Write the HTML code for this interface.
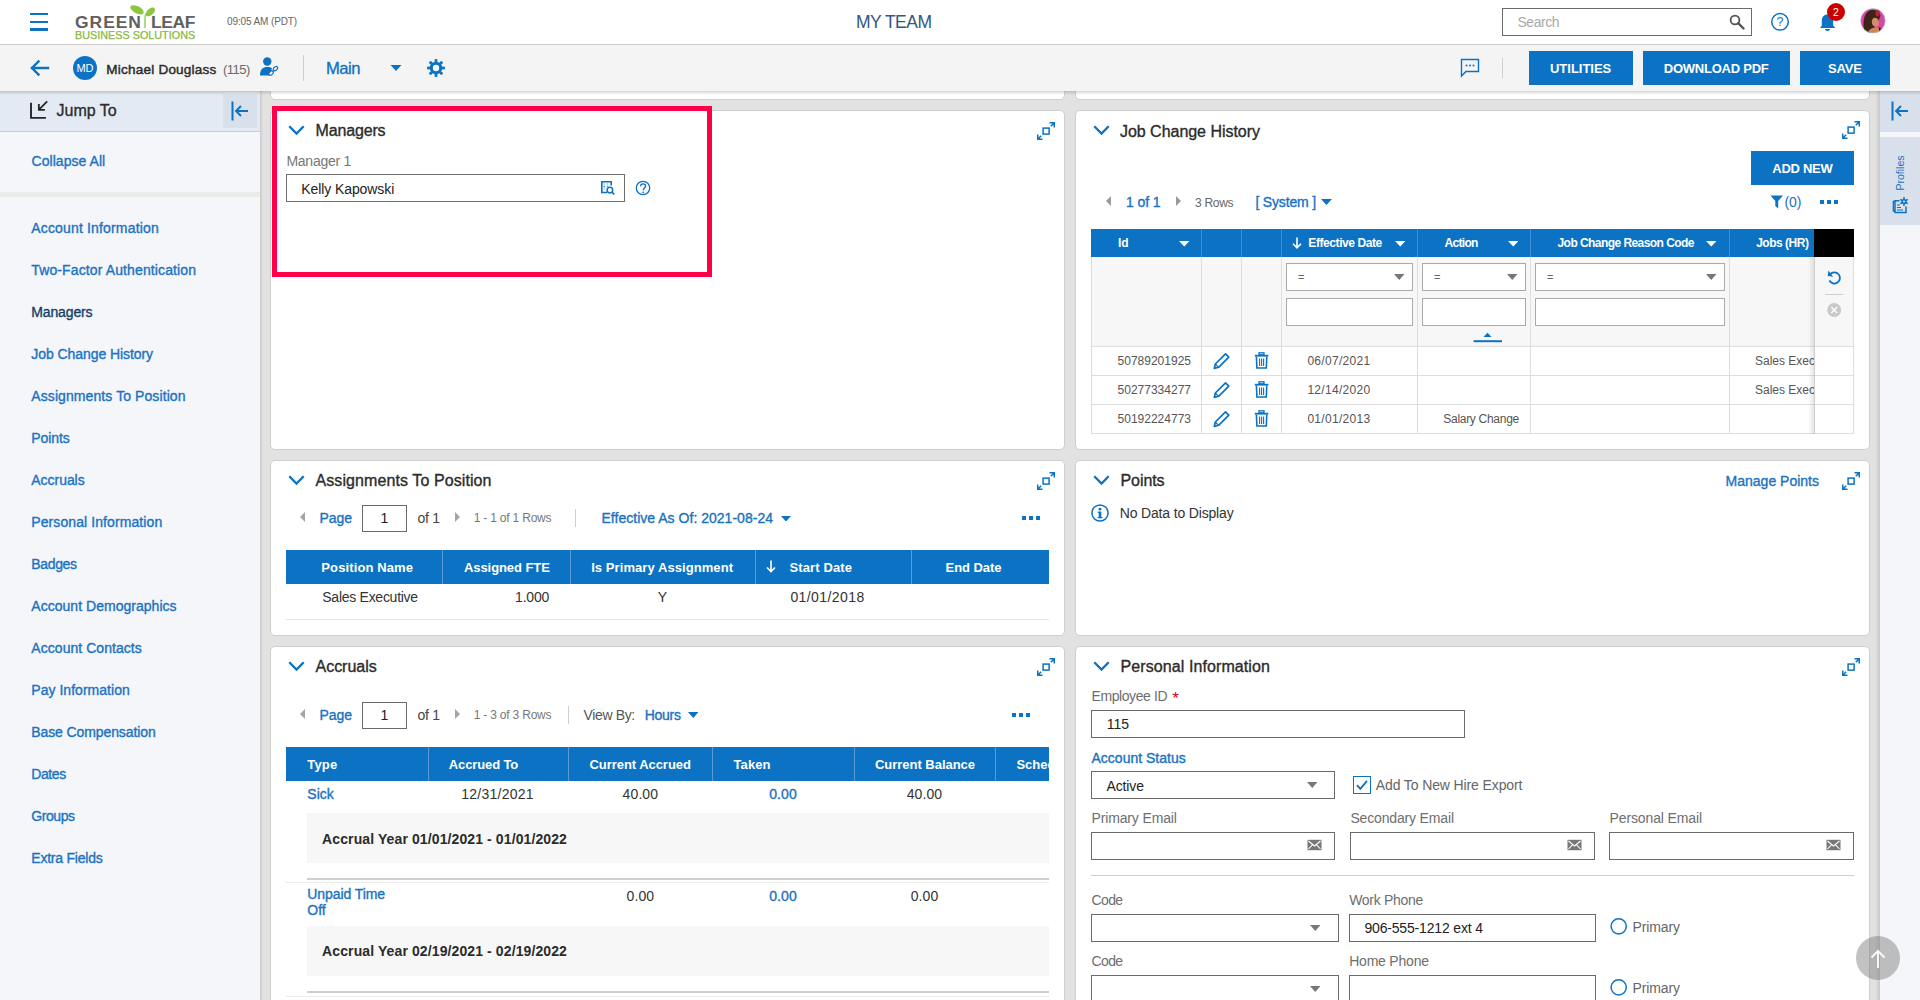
<!DOCTYPE html>
<html><head><meta charset="utf-8"><title>My Team</title>
<style>
html,body{margin:0;padding:0;}
body{width:1920px;height:1000px;overflow:hidden;position:relative;background:#e2e2e2;font-family:"Liberation Sans", sans-serif;}
div,svg{box-sizing:border-box;}
</style></head><body>
<div style="position:absolute;left:270px;top:60px;width:795px;height:40px;background:#fff;border:1px solid #cfcfcf;border-radius:5px;"></div><div style="position:absolute;left:1075px;top:60px;width:795px;height:40px;background:#fff;border:1px solid #cfcfcf;border-radius:5px;"></div><div style="position:absolute;left:270px;top:110px;width:795px;height:340px;background:#fff;border:1px solid #cfcfcf;border-radius:5px;"></div><div style="position:absolute;left:1075px;top:110px;width:795px;height:340px;background:#fff;border:1px solid #cfcfcf;border-radius:5px;"></div><div style="position:absolute;left:270px;top:460px;width:795px;height:176px;background:#fff;border:1px solid #cfcfcf;border-radius:5px;"></div><div style="position:absolute;left:1075px;top:460px;width:795px;height:176px;background:#fff;border:1px solid #cfcfcf;border-radius:5px;"></div><div style="position:absolute;left:270px;top:646px;width:795px;height:400px;background:#fff;border:1px solid #cfcfcf;border-radius:5px;"></div><div style="position:absolute;left:1075px;top:646px;width:795px;height:400px;background:#fff;border:1px solid #cfcfcf;border-radius:5px;"></div><div style="position:absolute;left:0px;top:91px;width:260px;height:909px;background:#f5f6fa;"></div><div style="position:absolute;left:260px;top:91px;width:3px;height:909px;background:linear-gradient(to right,#c9c9c9,#e2e2e2);"></div><div style="position:absolute;left:0px;top:91px;width:260px;height:41px;background:#e4eaf3;border-bottom:1px solid #c9ced6;"></div><div style="position:absolute;left:223px;top:94px;width:34px;height:34px;background:#d8e1eb;"></div><div style="position:absolute;left:0px;top:192px;width:260px;height:5px;background:#ececec;"></div><div style="position:absolute;left:1880px;top:91px;width:40px;height:909px;background:#f5f6fa;"></div><div style="position:absolute;left:1875px;top:91px;width:5px;height:909px;background:linear-gradient(to right,rgba(0,0,0,0),rgba(0,0,0,0.05) 50%,rgba(0,0,0,0.12));"></div><div style="position:absolute;left:1880px;top:91px;width:40px;height:41px;background:#d8e1eb;"></div><div style="position:absolute;left:1880px;top:137px;width:40px;height:88px;background:#d8e1eb;"></div><div style="position:absolute;left:0px;top:0px;width:1920px;height:45px;background:#fff;border-bottom:1px solid #cccccc;"></div><div style="position:absolute;left:0px;top:45px;width:1920px;height:46px;background:#f4f4f4;"></div><div style="position:absolute;left:0px;top:91px;width:1920px;height:4px;background:linear-gradient(to bottom,rgba(0,0,0,0.16),rgba(0,0,0,0));"></div><div style="position:absolute;left:30.4px;top:13px;width:17.2px;height:2.4px;background:#0b72c4;"></div><div style="position:absolute;left:30.4px;top:20.7px;width:17.2px;height:2.4px;background:#0b72c4;"></div><div style="position:absolute;left:30.4px;top:28.4px;width:17.2px;height:2.4px;background:#0b72c4;"></div><svg style="position:absolute;left:128px;top:4px" width="30" height="26" viewBox="0 0 30 26">
<path d="M17 24 L17 14 C17 12 17.3 10.5 18 9.5" stroke="#8cc63f" stroke-width="1.3" fill="none"/>
<ellipse cx="9" cy="5.8" rx="7.3" ry="3.6" transform="rotate(28 9 5.8)" fill="#8cc63f"/>
<ellipse cx="22.4" cy="7.9" rx="5.6" ry="3.1" transform="rotate(-42 22.4 7.9)" fill="#8cc63f"/>
</svg><div style="position:absolute;left:74.5px;top:15.00px;font-size:15.6px;line-height:15.6px;color:#606060;font-weight:bold;letter-spacing:0.863px;white-space:nowrap;transform:scaleX(1.12);transform-origin:0 0;">GREEN</div><div style="position:absolute;left:150.5px;top:15.00px;font-size:15.6px;line-height:15.6px;color:#606060;font-weight:bold;letter-spacing:-0.333px;white-space:nowrap;transform:scaleX(1.12);transform-origin:0 0;">LEAF</div><div style="position:absolute;left:74.5px;top:31.00px;font-size:10.3px;line-height:10.3px;color:#8ab943;font-weight:normal;white-space:nowrap;transform:scaleX(1.05);transform-origin:0 0;-webkit-text-stroke:0.25px currentColor;">BUSINESS SOLUTIONS</div><div style="position:absolute;left:227px;top:17.00px;font-size:10px;line-height:10px;color:#666;font-weight:normal;letter-spacing:-0.122px;white-space:nowrap;">09:05 AM (PDT)</div><div style="position:absolute;left:856px;top:14.00px;font-size:17.5px;line-height:17.5px;color:#34577e;font-weight:normal;letter-spacing:-0.516px;white-space:nowrap;">MY TEAM</div><div style="position:absolute;left:1502px;top:8px;width:250px;height:28px;border:1.5px solid #6b6b6b;background:#fff;"></div><div style="position:absolute;left:1517.5px;top:15.00px;font-size:14px;line-height:14px;color:#a9a9a9;font-weight:normal;letter-spacing:-0.472px;white-space:nowrap;">Search</div><svg style="position:absolute;left:1729px;top:14px" width="16" height="16" viewBox="0 0 16 16"><circle cx="6" cy="6" r="4.4" stroke="#555" stroke-width="1.8" fill="none"/><path d="M9.2 9.2 L14.5 14.5" stroke="#555" stroke-width="2.4" stroke-linecap="round"/></svg><svg style="position:absolute;left:1770px;top:12px" width="20" height="20" viewBox="0 0 20 20"><circle cx="10" cy="9.8" r="8.3" stroke="#0b72c4" stroke-width="1.5" fill="none"/><text x="10" y="14.2" text-anchor="middle" font-family="Liberation Sans" font-size="12.5" fill="#0b72c4">?</text></svg><svg style="position:absolute;left:1818px;top:12px" width="20" height="21" viewBox="0 0 20 21"><path d="M2 16 L3.8 13.8 L3.8 9 C3.8 5 6 2.6 9.5 2.6 C13 2.6 15.2 5 15.2 9 L15.2 13.8 L17.5 16 Z" fill="#0b72c4"/><path d="M7 17 C7 19.6 12 19.6 12 17 Z" fill="#0b72c4"/></svg><div style="position:absolute;left:1827px;top:3px;width:18px;height:18px;border-radius:50%;background:#cc0000;"></div><div style="position:absolute;left:1336px;width:1000px;text-align:center;top:7.00px;font-size:10.5px;line-height:10.5px;color:#fff;font-weight:normal;white-space:nowrap;">2</div><svg style="position:absolute;left:1860px;top:8px" width="26" height="26" viewBox="0 0 26 26"><defs><clipPath id="avc"><circle cx="12.9" cy="12.8" r="12.3"/></clipPath></defs>
<g clip-path="url(#avc)">
<rect width="26" height="26" fill="#d845a6"/>
<path d="M4.5 25 C2.2 15 3.8 4 10.5 2.2 C15 1.2 19.5 3 20.5 7.5 L18.5 13 C16.5 17 14 20 12.5 26 L5 26 Z" fill="#3d2416"/>
<ellipse cx="17.6" cy="5" rx="2.2" ry="3.4" fill="#a82a3c"/>
<ellipse cx="15.4" cy="14.3" rx="3.6" ry="4.6" transform="rotate(-12 15.4 14.3)" fill="#d68a72"/>
<path d="M7.5 26 C8.5 21.5 12 19.5 15.5 19.5 C18.5 19.5 20.5 21 21.5 26 Z" fill="#cf8657"/>
<path d="M19.8 19.5 L19.8 25" stroke="#1a1010" stroke-width="1.4"/>
</g>
<circle cx="12.9" cy="12.8" r="12.3" fill="none" stroke="#bcd0e3" stroke-width="0.6"/></svg><svg style="position:absolute;left:29px;top:59px" width="21" height="18" viewBox="0 0 21 18"><path d="M19 9 L3 9 M9.5 2.5 L3 9 L9.5 15.5" stroke="#0b72c4" stroke-width="2.4" fill="none" stroke-linecap="square"/></svg><div style="position:absolute;left:73px;top:56px;width:24px;height:24px;border-radius:50%;background:#0b72c4;"></div><div style="position:absolute;left:-415px;width:1000px;text-align:center;top:63.00px;font-size:11px;line-height:11px;color:#fff;font-weight:normal;white-space:nowrap;">MD</div><div style="position:absolute;left:106.3px;top:63.00px;font-size:13.5px;line-height:13.5px;color:#2b2b2b;font-weight:normal;letter-spacing:0.23px;white-space:nowrap;-webkit-text-stroke:0.45px currentColor;">Michael Douglass</div><div style="position:absolute;left:223px;top:63.00px;font-size:13px;line-height:13px;color:#6a6a6a;font-weight:normal;letter-spacing:-0.521px;white-space:nowrap;">(115)</div><svg style="position:absolute;left:259px;top:56px" width="21" height="21" viewBox="0 0 21 21"><circle cx="8.3" cy="5.5" r="4.2" fill="#0b72c4"/>
<path d="M1 19.5 C1 13 4 11 8.3 11 C10.5 11 12 11.5 13 12.3 L10.5 19.5 Z" fill="#0b72c4"/>
<path d="M11.8 17.6 L16.8 12.6" stroke="#0b72c4" stroke-width="1.3"/>
<rect x="9.5" y="15.5" width="5" height="3.2" rx="1.6" transform="rotate(-45 12 17)" stroke="#0b72c4" stroke-width="1.2" fill="#f4f4f4"/>
<rect x="14" y="11" width="5" height="3.2" rx="1.6" transform="rotate(-45 16.5 12.6)" stroke="#0b72c4" stroke-width="1.2" fill="#f4f4f4"/></svg><div style="position:absolute;left:302.5px;top:55px;width:1px;height:26px;background:#cfcfcf;"></div><div style="position:absolute;left:326px;top:61.00px;font-size:16.6px;line-height:16.6px;color:#0b72c4;font-weight:normal;letter-spacing:-0.494px;white-space:nowrap;-webkit-text-stroke:0.3px currentColor;">Main</div><svg style="position:absolute;left:390px;top:64px" width="12" height="8" viewBox="0 0 12 8"><path d="M0.5 1 L11.5 1 L6 7 Z" fill="#0b72c4"/></svg><svg style="position:absolute;left:426px;top:58px" width="20" height="20" viewBox="0 0 20 20"><g transform="translate(10 10)" fill="#0b72c4">
<circle r="6.2"/>
<rect x="-1.35" y="-8.9" width="2.7" height="4" transform="rotate(0)"/><rect x="-1.35" y="-8.9" width="2.7" height="4" transform="rotate(45)"/><rect x="-1.35" y="-8.9" width="2.7" height="4" transform="rotate(90)"/><rect x="-1.35" y="-8.9" width="2.7" height="4" transform="rotate(135)"/><rect x="-1.35" y="-8.9" width="2.7" height="4" transform="rotate(180)"/><rect x="-1.35" y="-8.9" width="2.7" height="4" transform="rotate(225)"/><rect x="-1.35" y="-8.9" width="2.7" height="4" transform="rotate(270)"/><rect x="-1.35" y="-8.9" width="2.7" height="4" transform="rotate(315)"/>
<circle r="3.2" fill="#f4f4f4"/></g></svg><svg style="position:absolute;left:1460px;top:58px" width="21" height="20" viewBox="0 0 21 20"><path d="M1.5 1.5 L18.5 1.5 L18.5 13.5 L6 13.5 L1.5 18 Z" stroke="#0b72c4" stroke-width="1.4" fill="none" stroke-linejoin="miter"/><circle cx="6.5" cy="7.5" r="1" fill="#0b72c4"/><circle cx="10" cy="7.5" r="1" fill="#0b72c4"/><circle cx="13.5" cy="7.5" r="1" fill="#0b72c4"/></svg><div style="position:absolute;left:1502px;top:58px;width:1px;height:20px;background:#cfcfcf;"></div><div style="position:absolute;left:1529px;top:51px;width:104px;height:34px;background:#0b72c4;"></div><div style="position:absolute;left:1550px;top:62.00px;font-size:13px;line-height:13px;color:#fff;font-weight:bold;letter-spacing:-0.017px;white-space:nowrap;">UTILITIES</div><div style="position:absolute;left:1643px;top:51px;width:147px;height:34px;background:#0b72c4;"></div><div style="position:absolute;left:1663.75px;top:62.00px;font-size:13px;line-height:13px;color:#fff;font-weight:bold;letter-spacing:-0.236px;white-space:nowrap;">DOWNLOAD PDF</div><div style="position:absolute;left:1800px;top:51px;width:90px;height:34px;background:#0b72c4;"></div><div style="position:absolute;left:1828px;top:62.00px;font-size:13px;line-height:13px;color:#fff;font-weight:bold;letter-spacing:-0.146px;white-space:nowrap;">SAVE</div><svg style="position:absolute;left:25px;top:96px" width="30" height="28" viewBox="0 0 30 28"><path d="M6 6.7 L6 21.9 L20.9 21.9" stroke="#262626" stroke-width="1.9" fill="none"/><path d="M22.2 5.3 L14.2 13.3 M13.85 8 L13.85 13.85 L19.9 13.85" stroke="#262626" stroke-width="1.8" fill="none"/></svg><div style="position:absolute;left:56.5px;top:103.00px;font-size:16px;line-height:16px;color:#2d2d2d;font-weight:normal;white-space:nowrap;-webkit-text-stroke:0.35px currentColor;">Jump To</div><svg style="position:absolute;left:230px;top:101px" width="20" height="20" viewBox="0 0 20 20"><path d="M2.5 0.5 L2.5 19.5" stroke="#0b72c4" stroke-width="2"/><path d="M18 10 L6 10 M11 5 L6 10 L11 15" stroke="#0b72c4" stroke-width="1.9" fill="none"/></svg><div style="position:absolute;left:31.5px;top:154.00px;font-size:14px;line-height:14px;color:#1a72c2;font-weight:normal;letter-spacing:0.05px;white-space:nowrap;-webkit-text-stroke:0.35px currentColor;">Collapse All</div><div style="position:absolute;left:31.3px;top:221.00px;font-size:14px;line-height:14px;color:#1a72c2;font-weight:normal;letter-spacing:0.16px;white-space:nowrap;-webkit-text-stroke:0.35px currentColor;">Account Information</div><div style="position:absolute;left:31.3px;top:263.00px;font-size:14px;line-height:14px;color:#1a72c2;font-weight:normal;letter-spacing:0.118px;white-space:nowrap;-webkit-text-stroke:0.35px currentColor;">Two-Factor Authentication</div><div style="position:absolute;left:31.3px;top:305.00px;font-size:14px;line-height:14px;color:#163f66;font-weight:normal;letter-spacing:-0.137px;white-space:nowrap;-webkit-text-stroke:0.35px currentColor;">Managers</div><div style="position:absolute;left:31.3px;top:347.00px;font-size:14px;line-height:14px;color:#1a72c2;font-weight:normal;letter-spacing:-0.068px;white-space:nowrap;-webkit-text-stroke:0.35px currentColor;">Job Change History</div><div style="position:absolute;left:31.3px;top:389.00px;font-size:14px;line-height:14px;color:#1a72c2;font-weight:normal;letter-spacing:0.088px;white-space:nowrap;-webkit-text-stroke:0.35px currentColor;">Assignments To Position</div><div style="position:absolute;left:31.3px;top:431.00px;font-size:14px;line-height:14px;color:#1a72c2;font-weight:normal;letter-spacing:-0.082px;white-space:nowrap;-webkit-text-stroke:0.35px currentColor;">Points</div><div style="position:absolute;left:31.3px;top:473.00px;font-size:14px;line-height:14px;color:#1a72c2;font-weight:normal;letter-spacing:-0.041px;white-space:nowrap;-webkit-text-stroke:0.35px currentColor;">Accruals</div><div style="position:absolute;left:31.3px;top:515.00px;font-size:14px;line-height:14px;color:#1a72c2;font-weight:normal;letter-spacing:0.09px;white-space:nowrap;-webkit-text-stroke:0.35px currentColor;">Personal Information</div><div style="position:absolute;left:31.3px;top:557.00px;font-size:14px;line-height:14px;color:#1a72c2;font-weight:normal;letter-spacing:-0.357px;white-space:nowrap;-webkit-text-stroke:0.35px currentColor;">Badges</div><div style="position:absolute;left:31.3px;top:599.00px;font-size:14px;line-height:14px;color:#1a72c2;font-weight:normal;letter-spacing:0.029px;white-space:nowrap;-webkit-text-stroke:0.35px currentColor;">Account Demographics</div><div style="position:absolute;left:31.3px;top:641.00px;font-size:14px;line-height:14px;color:#1a72c2;font-weight:normal;letter-spacing:0.052px;white-space:nowrap;-webkit-text-stroke:0.35px currentColor;">Account Contacts</div><div style="position:absolute;left:31.3px;top:683.00px;font-size:14px;line-height:14px;color:#1a72c2;font-weight:normal;letter-spacing:0.032px;white-space:nowrap;-webkit-text-stroke:0.35px currentColor;">Pay Information</div><div style="position:absolute;left:31.3px;top:725.00px;font-size:14px;line-height:14px;color:#1a72c2;font-weight:normal;letter-spacing:-0.105px;white-space:nowrap;-webkit-text-stroke:0.35px currentColor;">Base Compensation</div><div style="position:absolute;left:31.3px;top:767.00px;font-size:14px;line-height:14px;color:#1a72c2;font-weight:normal;letter-spacing:-0.418px;white-space:nowrap;-webkit-text-stroke:0.35px currentColor;">Dates</div><div style="position:absolute;left:31.3px;top:809.00px;font-size:14px;line-height:14px;color:#1a72c2;font-weight:normal;letter-spacing:-0.422px;white-space:nowrap;-webkit-text-stroke:0.35px currentColor;">Groups</div><div style="position:absolute;left:31.3px;top:851.00px;font-size:14px;line-height:14px;color:#1a72c2;font-weight:normal;letter-spacing:-0.228px;white-space:nowrap;-webkit-text-stroke:0.35px currentColor;">Extra Fields</div><svg style="position:absolute;left:287.5px;top:124.5px" width="17" height="11" viewBox="0 0 17 11"><path d="M1.3 1.3 L8.5 8.5 L15.7 1.3" stroke="#0b72c4" stroke-width="2.3" fill="none"/></svg><div style="position:absolute;left:315.6px;top:123.00px;font-size:16px;line-height:16px;color:#2b2b2b;font-weight:normal;letter-spacing:-0.164px;white-space:nowrap;-webkit-text-stroke:0.35px currentColor;">Managers</div><svg style="position:absolute;left:1037px;top:122px" width="18" height="18" viewBox="0 0 18 18"><rect x="6.1" y="6.1" width="6" height="6" stroke="#0b72c4" stroke-width="1.5" fill="none"/><path d="M12.5 0.75 L17.25 0.75 L17.25 5.5 M17.25 0.75 L13.8 4.2 M0.75 12.5 L0.75 17.25 L5.5 17.25 M0.75 17.25 L4.2 13.8" stroke="#0b72c4" stroke-width="1.5" fill="none"/></svg><div style="position:absolute;left:286.4px;top:154.00px;font-size:14px;line-height:14px;color:#777;font-weight:normal;letter-spacing:-0.242px;white-space:nowrap;">Manager 1</div><div style="position:absolute;left:286px;top:174px;width:339px;height:28px;border:1px solid #6e6e6e;background:#fff;"></div><div style="position:absolute;left:301.2px;top:182.00px;font-size:14px;line-height:14px;color:#222;font-weight:normal;letter-spacing:-0.08px;white-space:nowrap;">Kelly Kapowski</div><svg style="position:absolute;left:600px;top:180px" width="16" height="16" viewBox="0 0 16 16"><path d="M7 12.5 L1.8 12.5 L1.8 1.8 L11.2 1.8 L11.2 5.5" stroke="#0b72c4" stroke-width="1.6" fill="none"/>
<rect x="3.4" y="3.4" width="1.6" height="1.2" fill="#0b72c4" opacity="0.5"/><rect x="6.6" y="3.4" width="1.6" height="1.2" fill="#0b72c4" opacity="0.5"/>
<rect x="3.4" y="5.8" width="1.6" height="1.5" fill="#0b72c4" opacity="0.8"/><rect x="6.6" y="5.8" width="1.6" height="0.9" fill="#0b72c4" opacity="0.8"/>
<rect x="3.4" y="8.5" width="1.6" height="1" fill="#0b72c4" opacity="0.5"/>
<circle cx="9.9" cy="10.1" r="2.8" stroke="#0b72c4" stroke-width="1.5" fill="#fff"/><path d="M11.9 12.1 L14.3 14.5" stroke="#0b72c4" stroke-width="1.6"/></svg><svg style="position:absolute;left:635px;top:180px" width="16" height="16" viewBox="0 0 16 16"><circle cx="8" cy="8" r="6.7" stroke="#0b72c4" stroke-width="1.3" fill="none"/><path d="M5.6 6.2 C5.6 3.2 10.6 3.2 10.6 6 C10.6 7.8 8.2 8.3 8.2 10.3" stroke="#0b72c4" stroke-width="1.4" fill="none"/><circle cx="8.2" cy="12.3" r="0.9" fill="#0b72c4"/></svg><div style="position:absolute;left:272px;top:106px;width:440px;height:171px;border:5px solid #ff0048;"></div><svg style="position:absolute;left:1092.5px;top:124.5px" width="17" height="11" viewBox="0 0 17 11"><path d="M1.3 1.3 L8.5 8.5 L15.7 1.3" stroke="#0b72c4" stroke-width="2.3" fill="none"/></svg><div style="position:absolute;left:1120px;top:124.00px;font-size:16px;line-height:16px;color:#2b2b2b;font-weight:normal;letter-spacing:-0.031px;white-space:nowrap;-webkit-text-stroke:0.35px currentColor;">Job Change History</div><svg style="position:absolute;left:1842px;top:121px" width="18" height="18" viewBox="0 0 18 18"><rect x="6.1" y="6.1" width="6" height="6" stroke="#0b72c4" stroke-width="1.5" fill="none"/><path d="M12.5 0.75 L17.25 0.75 L17.25 5.5 M17.25 0.75 L13.8 4.2 M0.75 12.5 L0.75 17.25 L5.5 17.25 M0.75 17.25 L4.2 13.8" stroke="#0b72c4" stroke-width="1.5" fill="none"/></svg><div style="position:absolute;left:1751px;top:151px;width:103px;height:34px;background:#0b72c4;"></div><div style="position:absolute;left:1772.3px;top:162.00px;font-size:13px;line-height:13px;color:#fff;font-weight:bold;letter-spacing:-0.268px;white-space:nowrap;">ADD NEW</div><svg style="position:absolute;left:1106px;top:196px" width="6" height="10" viewBox="0 0 6 10"><path d="M5 0 L0 5 L5 10 Z" fill="#9a9a9a"/></svg><div style="position:absolute;left:1126px;top:195.00px;font-size:14px;line-height:14px;color:#1a72c2;font-weight:normal;letter-spacing:-0.105px;white-space:nowrap;-webkit-text-stroke:0.35px currentColor;">1 of 1</div><svg style="position:absolute;left:1176px;top:196px" width="6" height="10" viewBox="0 0 6 10"><path d="M0 0 L5 5 L0 10 Z" fill="#9a9a9a"/></svg><div style="position:absolute;left:1195px;top:197.00px;font-size:12px;line-height:12px;color:#666;font-weight:normal;letter-spacing:-0.303px;white-space:nowrap;">3 Rows</div><div style="position:absolute;left:1255.4px;top:195.00px;font-size:14px;line-height:14px;color:#1a72c2;font-weight:normal;letter-spacing:-0.159px;white-space:nowrap;-webkit-text-stroke:0.35px currentColor;">[ System ]</div><svg style="position:absolute;left:1321px;top:199px" width="11" height="6" viewBox="0 0 11 6"><path d="M0 0 L11 0 L5.5 6 Z" fill="#0b72c4"/></svg><svg style="position:absolute;left:1770px;top:195px" width="14" height="14" viewBox="0 0 14 14"><path d="M0.5 0.5 L13 0.5 L8.2 6 L8.2 13.5 L5.3 11 L5.3 6 Z" fill="#0b72c4"/></svg><div style="position:absolute;left:1784.5px;top:195.00px;font-size:14px;line-height:14px;color:#1a72c2;font-weight:normal;letter-spacing:-0.156px;white-space:nowrap;">(0)</div><div style="position:absolute;left:1820px;top:200px;width:4px;height:4px;background:#0b72c4;"></div><div style="position:absolute;left:1827px;top:200px;width:4px;height:4px;background:#0b72c4;"></div><div style="position:absolute;left:1834px;top:200px;width:4px;height:4px;background:#0b72c4;"></div><div style="position:absolute;left:1091px;top:229px;width:723px;height:28px;background:#0b72c4;"></div><div style="position:absolute;left:1814px;top:229px;width:40px;height:28px;background:#000;"></div><div style="position:absolute;left:1201px;top:229px;width:1px;height:28px;background:#3d8fd3;"></div><div style="position:absolute;left:1241px;top:229px;width:1px;height:28px;background:#3d8fd3;"></div><div style="position:absolute;left:1281px;top:229px;width:1px;height:28px;background:#3d8fd3;"></div><div style="position:absolute;left:1417px;top:229px;width:1px;height:28px;background:#3d8fd3;"></div><div style="position:absolute;left:1530px;top:229px;width:1px;height:28px;background:#3d8fd3;"></div><div style="position:absolute;left:1729px;top:229px;width:1px;height:28px;background:#3d8fd3;"></div><div style="position:absolute;left:1091px;top:257px;width:763px;height:89px;background:#f7f7f7;border-left:1px solid #ddd;border-right:1px solid #ddd;"></div><div style="position:absolute;left:1201px;top:257px;width:1px;height:177px;background:#dedede;"></div><div style="position:absolute;left:1241px;top:257px;width:1px;height:177px;background:#dedede;"></div><div style="position:absolute;left:1281px;top:257px;width:1px;height:177px;background:#dedede;"></div><div style="position:absolute;left:1417px;top:257px;width:1px;height:177px;background:#dedede;"></div><div style="position:absolute;left:1530px;top:257px;width:1px;height:177px;background:#dedede;"></div><div style="position:absolute;left:1729px;top:257px;width:1px;height:177px;background:#dedede;"></div><div style="position:absolute;left:1814px;top:257px;width:1px;height:177px;background:#dedede;"></div><div style="position:absolute;left:1091px;top:346px;width:763px;height:30px;background:#fff;border:1px solid #dedede;border-right:1px solid #dedede;"></div><div style="position:absolute;left:1091px;top:375px;width:763px;height:30px;background:#fff;border:1px solid #dedede;border-right:1px solid #dedede;"></div><div style="position:absolute;left:1091px;top:404px;width:763px;height:30px;background:#fff;border:1px solid #dedede;border-right:1px solid #dedede;"></div><div style="position:absolute;left:1201px;top:257px;width:1px;height:177px;background:#dedede;"></div><div style="position:absolute;left:1241px;top:257px;width:1px;height:177px;background:#dedede;"></div><div style="position:absolute;left:1281px;top:257px;width:1px;height:177px;background:#dedede;"></div><div style="position:absolute;left:1417px;top:257px;width:1px;height:177px;background:#dedede;"></div><div style="position:absolute;left:1530px;top:257px;width:1px;height:177px;background:#dedede;"></div><div style="position:absolute;left:1729px;top:257px;width:1px;height:177px;background:#dedede;"></div><div style="position:absolute;left:1814px;top:257px;width:1px;height:177px;background:#dedede;"></div><div style="position:absolute;left:1808px;top:257px;width:6px;height:177px;background:linear-gradient(to right,rgba(0,0,0,0),rgba(0,0,0,0.10));"></div><div style="position:absolute;left:1118px;top:237.00px;font-size:12px;line-height:12px;color:#fff;font-weight:bold;white-space:nowrap;">Id</div><svg style="position:absolute;left:1179px;top:241px" width="10.5" height="5.5" viewBox="0 0 10.5 5.5"><path d="M0 0 L10.5 0 L5.25 5.5 Z" fill="#fff"/></svg><svg style="position:absolute;left:1292px;top:237px" width="10" height="12" viewBox="0 0 10 12"><path d="M5 0.5 L5 10.5 M1 6.8 L5 10.8 L9 6.8" stroke="#fff" stroke-width="1.6" fill="none"/></svg><div style="position:absolute;left:1308.3px;top:237.00px;font-size:12px;line-height:12px;color:#fff;font-weight:bold;letter-spacing:-0.413px;white-space:nowrap;">Effective Date</div><svg style="position:absolute;left:1394.5px;top:241px" width="10.5" height="5.5" viewBox="0 0 10.5 5.5"><path d="M0 0 L10.5 0 L5.25 5.5 Z" fill="#fff"/></svg><div style="position:absolute;left:1444.4px;top:237.00px;font-size:12px;line-height:12px;color:#fff;font-weight:bold;letter-spacing:-0.666px;white-space:nowrap;">Action</div><svg style="position:absolute;left:1507.5px;top:241px" width="10.5" height="5.5" viewBox="0 0 10.5 5.5"><path d="M0 0 L10.5 0 L5.25 5.5 Z" fill="#fff"/></svg><div style="position:absolute;left:1557.5px;top:237.00px;font-size:12px;line-height:12px;color:#fff;font-weight:bold;letter-spacing:-0.557px;white-space:nowrap;">Job Change Reason Code</div><svg style="position:absolute;left:1706px;top:241px" width="10.5" height="5.5" viewBox="0 0 10.5 5.5"><path d="M0 0 L10.5 0 L5.25 5.5 Z" fill="#fff"/></svg><div style="position:absolute;left:1756.2px;top:237.00px;font-size:12px;line-height:12px;color:#fff;font-weight:bold;letter-spacing:-0.496px;white-space:nowrap;">Jobs (HR)</div><div style="position:absolute;left:1286px;top:263px;width:127px;height:28px;background:#fff;border:1px solid #aaa;"></div><div style="position:absolute;left:1286px;top:298px;width:127px;height:28px;background:#fff;border:1px solid #aaa;"></div><div style="position:absolute;left:1298px;top:272.00px;font-size:11px;line-height:11px;color:#666;font-weight:normal;white-space:nowrap;">=</div><svg style="position:absolute;left:1394px;top:273.5px" width="10.5" height="6" viewBox="0 0 10.5 6"><path d="M0 0 L10.5 0 L5.25 6 Z" fill="#777"/></svg><div style="position:absolute;left:1422px;top:263px;width:104px;height:28px;background:#fff;border:1px solid #aaa;"></div><div style="position:absolute;left:1422px;top:298px;width:104px;height:28px;background:#fff;border:1px solid #aaa;"></div><div style="position:absolute;left:1434px;top:272.00px;font-size:11px;line-height:11px;color:#666;font-weight:normal;white-space:nowrap;">=</div><svg style="position:absolute;left:1507px;top:273.5px" width="10.5" height="6" viewBox="0 0 10.5 6"><path d="M0 0 L10.5 0 L5.25 6 Z" fill="#777"/></svg><div style="position:absolute;left:1535px;top:263px;width:190px;height:28px;background:#fff;border:1px solid #aaa;"></div><div style="position:absolute;left:1535px;top:298px;width:190px;height:28px;background:#fff;border:1px solid #aaa;"></div><div style="position:absolute;left:1547px;top:272.00px;font-size:11px;line-height:11px;color:#666;font-weight:normal;white-space:nowrap;">=</div><svg style="position:absolute;left:1706px;top:273.5px" width="10.5" height="6" viewBox="0 0 10.5 6"><path d="M0 0 L10.5 0 L5.25 6 Z" fill="#777"/></svg><svg style="position:absolute;left:1473px;top:332px" width="30" height="11" viewBox="0 0 30 11"><path d="M10.5 5 L14.5 0.8 L18.5 5 Z" fill="#0b72c4"/><rect x="0.6" y="8.2" width="28.4" height="2" fill="#0b72c4"/></svg><svg style="position:absolute;left:1826px;top:269px" width="17" height="17" viewBox="0 0 17 17"><path d="M4.2 5.2 A5.6 5.6 0 1 1 3.4 11.5" stroke="#0b72c4" stroke-width="1.8" fill="none"/><path d="M2 1.8 L2 7.2 L7.4 7.2 Z" fill="#0b72c4" transform="rotate(8 4 5)"/></svg><div style="position:absolute;left:1825px;top:294px;width:18px;height:1px;background:#cfcfcf;"></div><svg style="position:absolute;left:1827px;top:303px" width="15" height="15" viewBox="0 0 15 15"><circle cx="7.2" cy="7" r="7" fill="#c9c9c9"/><path d="M4.3 4.1 L10.1 9.9 M10.1 4.1 L4.3 9.9" stroke="#fff" stroke-width="1.4"/></svg><div style="position:absolute;left:191px;width:1000px;text-align:right;top:355.00px;font-size:12px;line-height:12px;color:#555;font-weight:normal;white-space:nowrap;">50789201925</div><svg style="position:absolute;left:1213px;top:352px" width="18" height="18" viewBox="0 0 18 18"><path d="M12.5 1.8 L15.8 5.1 L5.6 15.3 L1.3 16.4 L2.3 12 Z" stroke="#0b72c4" stroke-width="1.7" fill="none" stroke-linejoin="round"/><path d="M2.3 12 L5.6 15.3" stroke="#0b72c4" stroke-width="1.2"/><path d="M1.6 14.5 L1.3 16.4 L3.3 16" fill="#0b72c4"/></svg><svg style="position:absolute;left:1254px;top:352px" width="16" height="17" viewBox="0 0 16 17"><rect x="5" y="0.8" width="5" height="2" fill="none" stroke="#0b72c4" stroke-width="1.3"/><rect x="0.8" y="2.8" width="13.6" height="1.8" fill="#0b72c4"/><path d="M2.4 4.6 L2.9 16 L12.3 16 L12.8 4.6" stroke="#0b72c4" stroke-width="1.6" fill="none"/><path d="M5.6 6.5 L5.6 14 M7.6 6.5 L7.6 14 M9.6 6.5 L9.6 14" stroke="#0b72c4" stroke-width="1.1"/></svg><div style="position:absolute;left:1307.4px;top:355.00px;font-size:12px;line-height:12px;color:#555;font-weight:normal;letter-spacing:0.304px;white-space:nowrap;">06/07/2021</div><div style="position:absolute;left:1755px;top:354.5px;width:59px;height:14px;overflow:hidden;"><div style="position:absolute;left:0;top:0;font-size:12px;line-height:12px;color:#555;white-space:nowrap;">Sales Executive</div></div><div style="position:absolute;left:191px;width:1000px;text-align:right;top:384.00px;font-size:12px;line-height:12px;color:#555;font-weight:normal;white-space:nowrap;">50277334277</div><svg style="position:absolute;left:1213px;top:381px" width="18" height="18" viewBox="0 0 18 18"><path d="M12.5 1.8 L15.8 5.1 L5.6 15.3 L1.3 16.4 L2.3 12 Z" stroke="#0b72c4" stroke-width="1.7" fill="none" stroke-linejoin="round"/><path d="M2.3 12 L5.6 15.3" stroke="#0b72c4" stroke-width="1.2"/><path d="M1.6 14.5 L1.3 16.4 L3.3 16" fill="#0b72c4"/></svg><svg style="position:absolute;left:1254px;top:381px" width="16" height="17" viewBox="0 0 16 17"><rect x="5" y="0.8" width="5" height="2" fill="none" stroke="#0b72c4" stroke-width="1.3"/><rect x="0.8" y="2.8" width="13.6" height="1.8" fill="#0b72c4"/><path d="M2.4 4.6 L2.9 16 L12.3 16 L12.8 4.6" stroke="#0b72c4" stroke-width="1.6" fill="none"/><path d="M5.6 6.5 L5.6 14 M7.6 6.5 L7.6 14 M9.6 6.5 L9.6 14" stroke="#0b72c4" stroke-width="1.1"/></svg><div style="position:absolute;left:1307.4px;top:384.00px;font-size:12px;line-height:12px;color:#555;font-weight:normal;letter-spacing:0.304px;white-space:nowrap;">12/14/2020</div><div style="position:absolute;left:1755px;top:383.5px;width:59px;height:14px;overflow:hidden;"><div style="position:absolute;left:0;top:0;font-size:12px;line-height:12px;color:#555;white-space:nowrap;">Sales Executive</div></div><div style="position:absolute;left:191px;width:1000px;text-align:right;top:413.00px;font-size:12px;line-height:12px;color:#555;font-weight:normal;white-space:nowrap;">50192224773</div><svg style="position:absolute;left:1213px;top:410px" width="18" height="18" viewBox="0 0 18 18"><path d="M12.5 1.8 L15.8 5.1 L5.6 15.3 L1.3 16.4 L2.3 12 Z" stroke="#0b72c4" stroke-width="1.7" fill="none" stroke-linejoin="round"/><path d="M2.3 12 L5.6 15.3" stroke="#0b72c4" stroke-width="1.2"/><path d="M1.6 14.5 L1.3 16.4 L3.3 16" fill="#0b72c4"/></svg><svg style="position:absolute;left:1254px;top:410px" width="16" height="17" viewBox="0 0 16 17"><rect x="5" y="0.8" width="5" height="2" fill="none" stroke="#0b72c4" stroke-width="1.3"/><rect x="0.8" y="2.8" width="13.6" height="1.8" fill="#0b72c4"/><path d="M2.4 4.6 L2.9 16 L12.3 16 L12.8 4.6" stroke="#0b72c4" stroke-width="1.6" fill="none"/><path d="M5.6 6.5 L5.6 14 M7.6 6.5 L7.6 14 M9.6 6.5 L9.6 14" stroke="#0b72c4" stroke-width="1.1"/></svg><div style="position:absolute;left:1307.4px;top:413.00px;font-size:12px;line-height:12px;color:#555;font-weight:normal;letter-spacing:0.304px;white-space:nowrap;">01/01/2013</div><div style="position:absolute;left:1443.3px;top:413.00px;font-size:12px;line-height:12px;color:#555;font-weight:normal;letter-spacing:-0.29px;white-space:nowrap;">Salary Change</div><div style="position:absolute;left:1814px;top:257px;width:40px;height:177px;background:transparent;border-left:1px solid #cfcfcf;"></div><svg style="position:absolute;left:1890px;top:101px" width="20" height="20" viewBox="0 0 20 20"><path d="M2.5 0.5 L2.5 19.5" stroke="#0b72c4" stroke-width="2"/><path d="M18 10 L6 10 M11 5 L6 10 L11 15" stroke="#0b72c4" stroke-width="1.9" fill="none"/></svg><div style="position:absolute;left:1882px;top:167px;width:36px;height:12px;transform:rotate(-90deg);transform-origin:50% 50%;text-align:center;font-size:10.5px;line-height:12px;color:#1a72c2;white-space:nowrap;">Profiles</div><svg style="position:absolute;left:1892px;top:197px" width="17" height="17" viewBox="0 0 17 17"><path d="M3 4.5 L1.3 4.5 L1.3 14 L3 14" stroke="#0b72c4" stroke-width="1.3" fill="none"/>
<path d="M7.5 3.8 L3 3.8 L3 15.5 L14 15.5 L14 9.5" stroke="#0b72c4" stroke-width="1.5" fill="none"/>
<path d="M5 8 L8 8 M5 10.5 L9 10.5 M5 13 L11 13" stroke="#0b72c4" stroke-width="1.1"/>
<g transform="translate(12 4.5)" fill="#0b72c4"><circle r="2.6"/><rect x="-0.8" y="-4.3" width="1.6" height="8.6"/><rect x="-0.8" y="-4.3" width="1.6" height="8.6" transform="rotate(60)"/><rect x="-0.8" y="-4.3" width="1.6" height="8.6" transform="rotate(120)"/><circle r="1.1" fill="#d8e1eb"/></g></svg><svg style="position:absolute;left:287.5px;top:474.5px" width="17" height="11" viewBox="0 0 17 11"><path d="M1.3 1.3 L8.5 8.5 L15.7 1.3" stroke="#0b72c4" stroke-width="2.3" fill="none"/></svg><div style="position:absolute;left:315.5px;top:473.00px;font-size:16px;line-height:16px;color:#2b2b2b;font-weight:normal;letter-spacing:0.09px;white-space:nowrap;-webkit-text-stroke:0.35px currentColor;">Assignments To Position</div><svg style="position:absolute;left:1037px;top:472px" width="18" height="18" viewBox="0 0 18 18"><rect x="6.1" y="6.1" width="6" height="6" stroke="#0b72c4" stroke-width="1.5" fill="none"/><path d="M12.5 0.75 L17.25 0.75 L17.25 5.5 M17.25 0.75 L13.8 4.2 M0.75 12.5 L0.75 17.25 L5.5 17.25 M0.75 17.25 L4.2 13.8" stroke="#0b72c4" stroke-width="1.5" fill="none"/></svg><svg style="position:absolute;left:299.5px;top:512.0px" width="6" height="10" viewBox="0 0 6 10"><path d="M5 0 L0 5 L5 10 Z" fill="#a5a5a5"/></svg><div style="position:absolute;left:319.5px;top:511.00px;font-size:14px;line-height:14px;color:#1a72c2;font-weight:normal;letter-spacing:-0.05px;white-space:nowrap;-webkit-text-stroke:0.35px currentColor;">Page</div><div style="position:absolute;left:362px;top:504.5px;width:45px;height:27.5px;border:1px solid #6a6a6a;background:#fff;"></div><div style="position:absolute;left:-115.5px;width:1000px;text-align:center;top:511.00px;font-size:14px;line-height:14px;color:#222;font-weight:normal;white-space:nowrap;">1</div><div style="position:absolute;left:417.5px;top:511.00px;font-size:14px;line-height:14px;color:#444;font-weight:normal;letter-spacing:-0.3px;white-space:nowrap;">of 1</div><svg style="position:absolute;left:454.5px;top:512.0px" width="6" height="10" viewBox="0 0 6 10"><path d="M0 0 L5 5 L0 10 Z" fill="#a5a5a5"/></svg><div style="position:absolute;left:473.7px;top:512.00px;font-size:12px;line-height:12px;color:#777;font-weight:normal;letter-spacing:-0.2px;white-space:nowrap;">1 - 1 of 1 Rows</div><div style="position:absolute;left:574.5px;top:509px;width:1px;height:18px;background:#cfcfcf;"></div><div style="position:absolute;left:601.5px;top:511.00px;font-size:14px;line-height:14px;color:#1a72c2;font-weight:normal;letter-spacing:0.021px;white-space:nowrap;-webkit-text-stroke:0.35px currentColor;">Effective As Of: 2021-08-24</div><svg style="position:absolute;left:780.5px;top:515.5px" width="10" height="5.5" viewBox="0 0 10 5.5"><path d="M0 0 L10 0 L5.0 5.5 Z" fill="#0b72c4"/></svg><div style="position:absolute;left:1022px;top:516px;width:4px;height:4px;background:#0b72c4;"></div><div style="position:absolute;left:1029px;top:516px;width:4px;height:4px;background:#0b72c4;"></div><div style="position:absolute;left:1036px;top:516px;width:4px;height:4px;background:#0b72c4;"></div><div style="position:absolute;left:286px;top:550px;width:763px;height:34px;background:#0b72c4;"></div><div style="position:absolute;left:442px;top:550px;width:1px;height:34px;background:#5c9bd6;"></div><div style="position:absolute;left:570px;top:550px;width:1px;height:34px;background:#5c9bd6;"></div><div style="position:absolute;left:754.5px;top:550px;width:1px;height:34px;background:#5c9bd6;"></div><div style="position:absolute;left:910.5px;top:550px;width:1px;height:34px;background:#5c9bd6;"></div><div style="position:absolute;left:321.3px;top:561.00px;font-size:13px;line-height:13px;color:#fff;font-weight:bold;letter-spacing:0.117px;white-space:nowrap;">Position Name</div><div style="position:absolute;left:464px;top:561.00px;font-size:13px;line-height:13px;color:#fff;font-weight:bold;letter-spacing:-0.08px;white-space:nowrap;">Assigned FTE</div><div style="position:absolute;left:591.2px;top:561.00px;font-size:13px;line-height:13px;color:#fff;font-weight:bold;letter-spacing:0.07px;white-space:nowrap;">Is Primary Assignment</div><svg style="position:absolute;left:766px;top:560px" width="10" height="13" viewBox="0 0 10 13"><path d="M5 0.5 L5 11.5 M1 7.5 L5 11.5 L9 7.5" stroke="#fff" stroke-width="1.6" fill="none"/></svg><div style="position:absolute;left:789.5px;top:561.00px;font-size:13px;line-height:13px;color:#fff;font-weight:bold;letter-spacing:0.121px;white-space:nowrap;">Start Date</div><div style="position:absolute;left:945.6px;top:561.00px;font-size:13px;line-height:13px;color:#fff;font-weight:bold;letter-spacing:-0.078px;white-space:nowrap;">End Date</div><div style="position:absolute;left:322.3px;top:590.00px;font-size:14px;line-height:14px;color:#333;font-weight:normal;letter-spacing:-0.272px;white-space:nowrap;">Sales Executive</div><div style="position:absolute;left:515px;top:590.00px;font-size:14px;line-height:14px;color:#333;font-weight:normal;letter-spacing:-0.159px;white-space:nowrap;">1.000</div><div style="position:absolute;left:162.39999999999998px;width:1000px;text-align:center;top:590.00px;font-size:14px;line-height:14px;color:#333;font-weight:normal;white-space:nowrap;">Y</div><div style="position:absolute;left:790.4px;top:590.00px;font-size:14px;line-height:14px;color:#333;font-weight:normal;letter-spacing:0.414px;white-space:nowrap;">01/01/2018</div><div style="position:absolute;left:286px;top:619px;width:763px;height:1px;background:#e6e6e6;"></div><svg style="position:absolute;left:287.5px;top:660.5px" width="17" height="11" viewBox="0 0 17 11"><path d="M1.3 1.3 L8.5 8.5 L15.7 1.3" stroke="#0b72c4" stroke-width="2.3" fill="none"/></svg><div style="position:absolute;left:315.5px;top:659.00px;font-size:16px;line-height:16px;color:#2b2b2b;font-weight:normal;letter-spacing:-0.022px;white-space:nowrap;-webkit-text-stroke:0.35px currentColor;">Accruals</div><svg style="position:absolute;left:1037px;top:658px" width="18" height="18" viewBox="0 0 18 18"><rect x="6.1" y="6.1" width="6" height="6" stroke="#0b72c4" stroke-width="1.5" fill="none"/><path d="M12.5 0.75 L17.25 0.75 L17.25 5.5 M17.25 0.75 L13.8 4.2 M0.75 12.5 L0.75 17.25 L5.5 17.25 M0.75 17.25 L4.2 13.8" stroke="#0b72c4" stroke-width="1.5" fill="none"/></svg><svg style="position:absolute;left:299.5px;top:709.4px" width="6" height="10" viewBox="0 0 6 10"><path d="M5 0 L0 5 L5 10 Z" fill="#a5a5a5"/></svg><div style="position:absolute;left:319.5px;top:708.00px;font-size:14px;line-height:14px;color:#1a72c2;font-weight:normal;letter-spacing:-0.05px;white-space:nowrap;-webkit-text-stroke:0.35px currentColor;">Page</div><div style="position:absolute;left:362px;top:701.9px;width:45px;height:27.5px;border:1px solid #6a6a6a;background:#fff;"></div><div style="position:absolute;left:-115.5px;width:1000px;text-align:center;top:708.00px;font-size:14px;line-height:14px;color:#222;font-weight:normal;white-space:nowrap;">1</div><div style="position:absolute;left:417.5px;top:708.00px;font-size:14px;line-height:14px;color:#444;font-weight:normal;letter-spacing:-0.3px;white-space:nowrap;">of 1</div><svg style="position:absolute;left:454.5px;top:709.4px" width="6" height="10" viewBox="0 0 6 10"><path d="M0 0 L5 5 L0 10 Z" fill="#a5a5a5"/></svg><div style="position:absolute;left:473.7px;top:709.00px;font-size:12px;line-height:12px;color:#777;font-weight:normal;letter-spacing:-0.2px;white-space:nowrap;">1 - 3 of 3 Rows</div><div style="position:absolute;left:567.5px;top:706px;width:1px;height:18px;background:#cfcfcf;"></div><div style="position:absolute;left:583.6px;top:708.00px;font-size:14px;line-height:14px;color:#555;font-weight:normal;letter-spacing:-0.373px;white-space:nowrap;">View By:</div><div style="position:absolute;left:644.8px;top:708.00px;font-size:14px;line-height:14px;color:#1a72c2;font-weight:normal;letter-spacing:-0.287px;white-space:nowrap;-webkit-text-stroke:0.35px currentColor;">Hours</div><svg style="position:absolute;left:687.5px;top:712px" width="10.5" height="6" viewBox="0 0 10.5 6"><path d="M0 0 L10.5 0 L5.25 6 Z" fill="#0b72c4"/></svg><div style="position:absolute;left:1012px;top:713px;width:4px;height:4px;background:#0b72c4;"></div><div style="position:absolute;left:1019px;top:713px;width:4px;height:4px;background:#0b72c4;"></div><div style="position:absolute;left:1026px;top:713px;width:4px;height:4px;background:#0b72c4;"></div><div style="position:absolute;left:286px;top:747px;width:763px;height:34px;background:#0b72c4;"></div><div style="position:absolute;left:427.5px;top:747px;width:1px;height:34px;background:#5c9bd6;"></div><div style="position:absolute;left:568.2px;top:747px;width:1px;height:34px;background:#5c9bd6;"></div><div style="position:absolute;left:712.2px;top:747px;width:1px;height:34px;background:#5c9bd6;"></div><div style="position:absolute;left:853.7px;top:747px;width:1px;height:34px;background:#5c9bd6;"></div><div style="position:absolute;left:995.4px;top:747px;width:1px;height:34px;background:#5c9bd6;"></div><div style="position:absolute;left:307.3px;top:758.00px;font-size:13px;line-height:13px;color:#fff;font-weight:bold;letter-spacing:0.174px;white-space:nowrap;">Type</div><div style="position:absolute;left:448.8px;top:758.00px;font-size:13px;line-height:13px;color:#fff;font-weight:bold;letter-spacing:-0.117px;white-space:nowrap;">Accrued To</div><div style="position:absolute;left:589.5px;top:758.00px;font-size:13px;line-height:13px;color:#fff;font-weight:bold;letter-spacing:-0.05px;white-space:nowrap;">Current Accrued</div><div style="position:absolute;left:733.5px;top:758.00px;font-size:13px;line-height:13px;color:#fff;font-weight:bold;letter-spacing:0.098px;white-space:nowrap;">Taken</div><div style="position:absolute;left:875.0px;top:758.00px;font-size:13px;line-height:13px;color:#fff;font-weight:bold;letter-spacing:-0.03px;white-space:nowrap;">Current Balance</div><div style="position:absolute;left:1016.4px;top:758px;width:32.60000000000002px;height:16px;overflow:hidden;font-size:13px;line-height:13px;font-weight:bold;color:#fff;white-space:nowrap;">Scheduled</div><div style="position:absolute;left:307.3px;top:787.00px;font-size:14px;line-height:14px;color:#1a72c2;font-weight:normal;white-space:nowrap;-webkit-text-stroke:0.35px currentColor;">Sick</div><div style="position:absolute;left:461.3px;top:787.00px;font-size:14px;line-height:14px;color:#333;font-weight:normal;letter-spacing:0.248px;white-space:nowrap;">12/31/2021</div><div style="position:absolute;left:140.39999999999998px;width:1000px;text-align:center;top:787.00px;font-size:14px;line-height:14px;color:#333;font-weight:normal;letter-spacing:0.1px;white-space:nowrap;">40.00</div><div style="position:absolute;left:283px;width:1000px;text-align:center;top:787.00px;font-size:14px;line-height:14px;color:#1a72c2;font-weight:normal;letter-spacing:0.1px;white-space:nowrap;-webkit-text-stroke:0.35px currentColor;">0.00</div><div style="position:absolute;left:424.5px;width:1000px;text-align:center;top:787.00px;font-size:14px;line-height:14px;color:#333;font-weight:normal;letter-spacing:0.1px;white-space:nowrap;">40.00</div><div style="position:absolute;left:307px;top:813px;width:742px;height:50px;background:#f7f7f7;"></div><div style="position:absolute;left:322.1px;top:832.00px;font-size:14px;line-height:14px;color:#2b2b2b;font-weight:bold;letter-spacing:0.107px;white-space:nowrap;">Accrual Year 01/01/2021 - 01/01/2022</div><div style="position:absolute;left:307px;top:878px;width:742px;height:1.5px;background:#cfcfcf;"></div><div style="position:absolute;left:286px;top:882px;width:763px;height:1px;background:#ebebeb;"></div><div style="position:absolute;left:307.3px;top:887.00px;font-size:14px;line-height:14px;color:#1a72c2;font-weight:normal;letter-spacing:-0.08px;white-space:nowrap;-webkit-text-stroke:0.35px currentColor;">Unpaid Time</div><div style="position:absolute;left:307.3px;top:903.00px;font-size:14px;line-height:14px;color:#1a72c2;font-weight:normal;white-space:nowrap;-webkit-text-stroke:0.35px currentColor;">Off</div><div style="position:absolute;left:140.39999999999998px;width:1000px;text-align:center;top:889.00px;font-size:14px;line-height:14px;color:#333;font-weight:normal;letter-spacing:0.1px;white-space:nowrap;">0.00</div><div style="position:absolute;left:283px;width:1000px;text-align:center;top:889.00px;font-size:14px;line-height:14px;color:#1a72c2;font-weight:normal;letter-spacing:0.1px;white-space:nowrap;-webkit-text-stroke:0.35px currentColor;">0.00</div><div style="position:absolute;left:424.5px;width:1000px;text-align:center;top:889.00px;font-size:14px;line-height:14px;color:#333;font-weight:normal;letter-spacing:0.1px;white-space:nowrap;">0.00</div><div style="position:absolute;left:307px;top:926px;width:742px;height:50px;background:#f7f7f7;"></div><div style="position:absolute;left:322.1px;top:944.00px;font-size:14px;line-height:14px;color:#2b2b2b;font-weight:bold;letter-spacing:0.107px;white-space:nowrap;">Accrual Year 02/19/2021 - 02/19/2022</div><div style="position:absolute;left:307px;top:991px;width:742px;height:1.5px;background:#cfcfcf;"></div><div style="position:absolute;left:286px;top:995.5px;width:763px;height:1px;background:#ebebeb;"></div><svg style="position:absolute;left:1092.5px;top:474.5px" width="17" height="11" viewBox="0 0 17 11"><path d="M1.3 1.3 L8.5 8.5 L15.7 1.3" stroke="#0b72c4" stroke-width="2.3" fill="none"/></svg><div style="position:absolute;left:1120.5px;top:473.00px;font-size:16px;line-height:16px;color:#2b2b2b;font-weight:normal;letter-spacing:-0.074px;white-space:nowrap;-webkit-text-stroke:0.35px currentColor;">Points</div><div style="position:absolute;left:1725.6px;top:474.00px;font-size:14px;line-height:14px;color:#1a72c2;font-weight:normal;white-space:nowrap;-webkit-text-stroke:0.35px currentColor;">Manage Points</div><svg style="position:absolute;left:1842px;top:472px" width="18" height="18" viewBox="0 0 18 18"><rect x="6.1" y="6.1" width="6" height="6" stroke="#0b72c4" stroke-width="1.5" fill="none"/><path d="M12.5 0.75 L17.25 0.75 L17.25 5.5 M17.25 0.75 L13.8 4.2 M0.75 12.5 L0.75 17.25 L5.5 17.25 M0.75 17.25 L4.2 13.8" stroke="#0b72c4" stroke-width="1.5" fill="none"/></svg><svg style="position:absolute;left:1091px;top:504px" width="18" height="18" viewBox="0 0 18 18"><circle cx="9" cy="9" r="8.1" stroke="#0b72c4" stroke-width="1.5" fill="none"/><circle cx="9" cy="5.2" r="1.4" fill="#0b72c4"/><rect x="7.7" y="7.6" width="2.6" height="6.6" fill="#0b72c4"/><rect x="6.6" y="7.6" width="2" height="1.2" fill="#0b72c4"/><rect x="6.6" y="13" width="4.8" height="1.2" fill="#0b72c4"/></svg><div style="position:absolute;left:1119.7px;top:506.00px;font-size:14px;line-height:14px;color:#333;font-weight:normal;letter-spacing:-0.16px;white-space:nowrap;">No Data to Display</div><svg style="position:absolute;left:1092.5px;top:660.5px" width="17" height="11" viewBox="0 0 17 11"><path d="M1.3 1.3 L8.5 8.5 L15.7 1.3" stroke="#0b72c4" stroke-width="2.3" fill="none"/></svg><div style="position:absolute;left:1120.6px;top:659.00px;font-size:16px;line-height:16px;color:#2b2b2b;font-weight:normal;letter-spacing:0.088px;white-space:nowrap;-webkit-text-stroke:0.35px currentColor;">Personal Information</div><svg style="position:absolute;left:1842px;top:658px" width="18" height="18" viewBox="0 0 18 18"><rect x="6.1" y="6.1" width="6" height="6" stroke="#0b72c4" stroke-width="1.5" fill="none"/><path d="M12.5 0.75 L17.25 0.75 L17.25 5.5 M17.25 0.75 L13.8 4.2 M0.75 12.5 L0.75 17.25 L5.5 17.25 M0.75 17.25 L4.2 13.8" stroke="#0b72c4" stroke-width="1.5" fill="none"/></svg><div style="position:absolute;left:1091.5px;top:689.00px;font-size:14px;line-height:14px;color:#6e6e6e;font-weight:normal;letter-spacing:-0.415px;white-space:nowrap;">Employee ID</div><div style="position:absolute;left:1172.2px;top:690.00px;font-size:17px;line-height:17px;color:#d0021b;font-weight:normal;white-space:nowrap;">*</div><div style="position:absolute;left:1091px;top:710px;width:374px;height:28px;border:1px solid #6a6a6a;background:#fff;"></div><div style="position:absolute;left:1106.7px;top:717.00px;font-size:14px;line-height:14px;color:#222;font-weight:normal;white-space:nowrap;">115</div><div style="position:absolute;left:1091.5px;top:751.00px;font-size:14px;line-height:14px;color:#1a72c2;font-weight:normal;letter-spacing:0.003px;white-space:nowrap;-webkit-text-stroke:0.35px currentColor;">Account Status</div><div style="position:absolute;left:1091px;top:771px;width:244px;height:28px;border:1px solid #6a6a6a;background:#fff;"></div><div style="position:absolute;left:1106.5px;top:779.00px;font-size:14px;line-height:14px;color:#222;font-weight:normal;letter-spacing:-0.125px;white-space:nowrap;">Active</div><svg style="position:absolute;left:1306.5px;top:782.3px" width="10.5" height="6" viewBox="0 0 10.5 6"><path d="M0 0 L10.5 0 L5.25 6 Z" fill="#777"/></svg><div style="position:absolute;left:1353px;top:776px;width:17.5px;height:17.5px;border:1.5px solid #0b72c4;background:#fff;"></div><svg style="position:absolute;left:1353px;top:776px" width="18" height="18" viewBox="0 0 18 18"><path d="M4 9.2 L7.3 12.8 L14 4.8" stroke="#0b72c4" stroke-width="1.8" fill="none"/></svg><div style="position:absolute;left:1375.8px;top:778.00px;font-size:14px;line-height:14px;color:#666;font-weight:normal;letter-spacing:-0.121px;white-space:nowrap;">Add To New Hire Export</div><div style="position:absolute;left:1091.5px;top:811.00px;font-size:14px;line-height:14px;color:#6e6e6e;font-weight:normal;letter-spacing:-0.143px;white-space:nowrap;">Primary Email</div><div style="position:absolute;left:1091.0px;top:832px;width:244.0px;height:28px;border:1px solid #6a6a6a;background:#fff;"></div><svg style="position:absolute;left:1307px;top:839px" width="15" height="12" viewBox="0 0 15 12"><rect x="0.5" y="0.8" width="14" height="10.4" fill="#777"/><path d="M1.5 2 L7.5 7 L13.5 2 M1.5 10 L5.6 5.6 M13.5 10 L9.4 5.6" stroke="#fff" stroke-width="1.1" fill="none"/></svg><div style="position:absolute;left:1350.4px;top:811.00px;font-size:14px;line-height:14px;color:#6e6e6e;font-weight:normal;letter-spacing:-0.159px;white-space:nowrap;">Secondary Email</div><div style="position:absolute;left:1349.9px;top:832px;width:245.0999999999999px;height:28px;border:1px solid #6a6a6a;background:#fff;"></div><svg style="position:absolute;left:1567px;top:839px" width="15" height="12" viewBox="0 0 15 12"><rect x="0.5" y="0.8" width="14" height="10.4" fill="#777"/><path d="M1.5 2 L7.5 7 L13.5 2 M1.5 10 L5.6 5.6 M13.5 10 L9.4 5.6" stroke="#fff" stroke-width="1.1" fill="none"/></svg><div style="position:absolute;left:1609.6px;top:811.00px;font-size:14px;line-height:14px;color:#6e6e6e;font-weight:normal;letter-spacing:-0.127px;white-space:nowrap;">Personal Email</div><div style="position:absolute;left:1609.1px;top:832px;width:244.9000000000001px;height:28px;border:1px solid #6a6a6a;background:#fff;"></div><svg style="position:absolute;left:1826px;top:839px" width="15" height="12" viewBox="0 0 15 12"><rect x="0.5" y="0.8" width="14" height="10.4" fill="#777"/><path d="M1.5 2 L7.5 7 L13.5 2 M1.5 10 L5.6 5.6 M13.5 10 L9.4 5.6" stroke="#fff" stroke-width="1.1" fill="none"/></svg><div style="position:absolute;left:1091px;top:875px;width:763px;height:1px;background:#d0d0d0;"></div><div style="position:absolute;left:1091.5px;top:893.00px;font-size:14px;line-height:14px;color:#6e6e6e;font-weight:normal;letter-spacing:-0.623px;white-space:nowrap;">Code</div><div style="position:absolute;left:1091px;top:914px;width:248px;height:28px;border:1px solid #6a6a6a;background:#fff;"></div><svg style="position:absolute;left:1309.8px;top:925px" width="10.5" height="6" viewBox="0 0 10.5 6"><path d="M0 0 L10.5 0 L5.25 6 Z" fill="#777"/></svg><div style="position:absolute;left:1349.2px;top:893.00px;font-size:14px;line-height:14px;color:#6e6e6e;font-weight:normal;letter-spacing:-0.298px;white-space:nowrap;">Work Phone</div><div style="position:absolute;left:1349px;top:914px;width:247px;height:28px;border:1px solid #6a6a6a;background:#fff;"></div><svg style="position:absolute;left:1609px;top:917px" width="20" height="20" viewBox="0 0 20 20"><circle cx="9.7" cy="9.3" r="7.6" stroke="#0b72c4" stroke-width="1.5" fill="#fff"/></svg><div style="position:absolute;left:1632.5px;top:920.00px;font-size:14px;line-height:14px;color:#666;font-weight:normal;letter-spacing:-0.121px;white-space:nowrap;">Primary</div><div style="position:absolute;left:1091.5px;top:954.00px;font-size:14px;line-height:14px;color:#6e6e6e;font-weight:normal;letter-spacing:-0.623px;white-space:nowrap;">Code</div><div style="position:absolute;left:1091px;top:975px;width:248px;height:28px;border:1px solid #6a6a6a;background:#fff;"></div><svg style="position:absolute;left:1309.8px;top:986px" width="10.5" height="6" viewBox="0 0 10.5 6"><path d="M0 0 L10.5 0 L5.25 6 Z" fill="#777"/></svg><div style="position:absolute;left:1349.2px;top:954.00px;font-size:14px;line-height:14px;color:#6e6e6e;font-weight:normal;letter-spacing:-0.213px;white-space:nowrap;">Home Phone</div><div style="position:absolute;left:1349px;top:975px;width:247px;height:28px;border:1px solid #6a6a6a;background:#fff;"></div><svg style="position:absolute;left:1609px;top:978px" width="20" height="20" viewBox="0 0 20 20"><circle cx="9.7" cy="9.3" r="7.6" stroke="#0b72c4" stroke-width="1.5" fill="#fff"/></svg><div style="position:absolute;left:1632.5px;top:981.00px;font-size:14px;line-height:14px;color:#666;font-weight:normal;letter-spacing:-0.121px;white-space:nowrap;">Primary</div><div style="position:absolute;left:1364.4px;top:921.00px;font-size:14px;line-height:14px;color:#222;font-weight:normal;letter-spacing:-0.166px;white-space:nowrap;">906-555-1212 ext 4</div><div style="position:absolute;left:1856px;top:936px;width:44px;height:44px;border-radius:50%;background:rgba(120,120,120,0.45);"></div><svg style="position:absolute;left:1868px;top:948px" width="20" height="22" viewBox="0 0 20 22"><path d="M10 3 L10 20 M3.5 9.5 L10 3 L16.5 9.5" stroke="#fff" stroke-width="2" fill="none" opacity="0.9"/></svg>
</body></html>
